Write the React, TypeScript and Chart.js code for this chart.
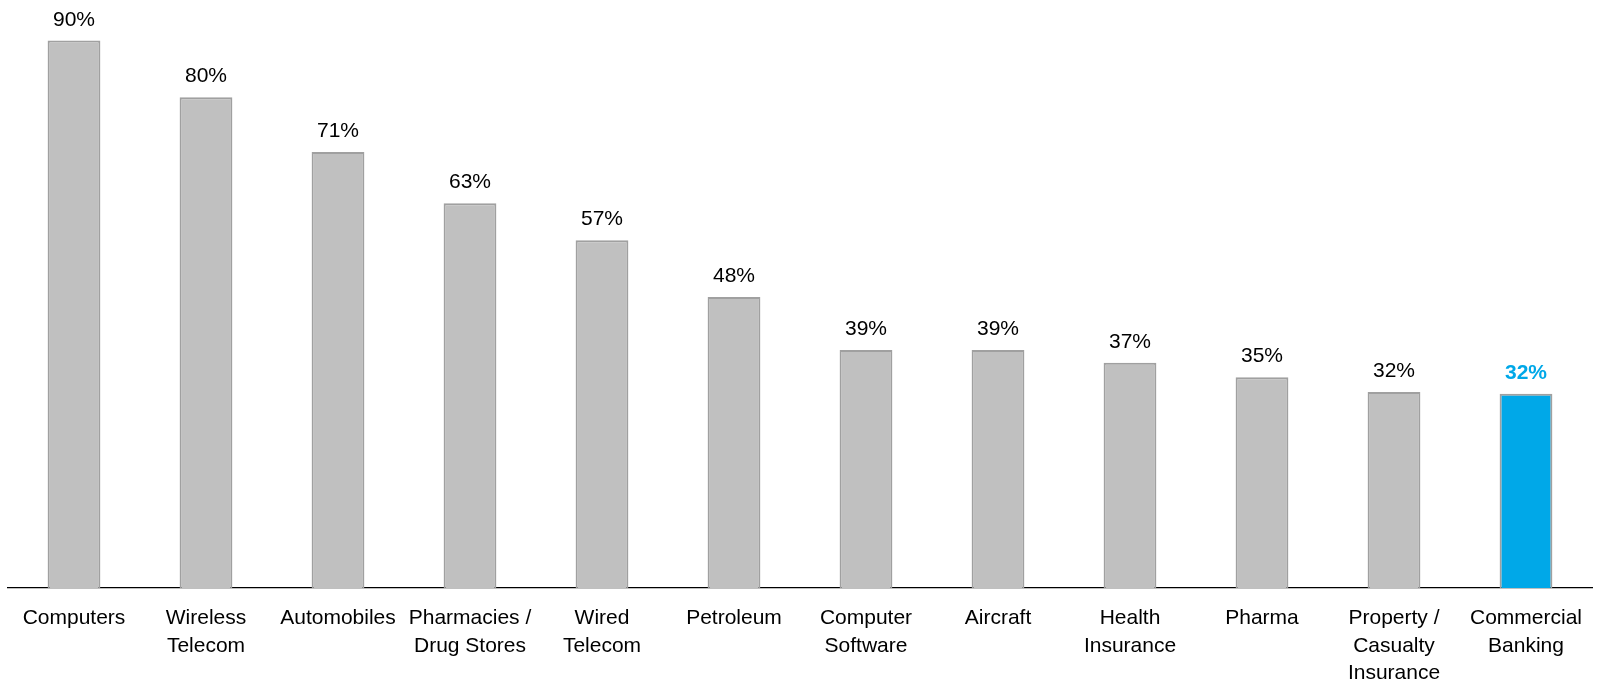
import React, { useEffect, useRef } from "react";
import { Chart, registerables } from "chart.js";

Chart.register(...registerables);

const categories: (string | string[])[] = [
  "Computers",
  ["Wireless", "Telecom"],
  "Automobiles",
  ["Pharmacies /", "Drug Stores"],
  ["Wired", "Telecom"],
  "Petroleum",
  ["Computer", "Software"],
  "Aircraft",
  ["Health", "Insurance"],
  "Pharma",
  ["Property /", "Casualty", "Insurance"],
  ["Commercial", "Banking"],
];

// bar heights
const values: number[] = [89.9, 80.6, 71.6, 63.2, 57.1, 47.8, 39.1, 39.1, 37.0, 34.6, 32.2, 31.9];
// labels printed above the bars
const valueLabels: string[] = ["90%", "80%", "71%", "63%", "57%", "48%", "39%", "39%", "37%", "35%", "32%", "32%"];
const highlightIndex = 11;

const GREY = "#c0c0c0";
const GREY_BORDER = "#a0a0a0";
const BLUE = "#00a8e8";
const FONT = "'Liberation Sans', Arial, sans-serif";

const valueLabelPlugin = {
  id: "valueLabels",
  afterDatasetsDraw(chart: any) {
    const ctx = chart.ctx;
    const meta = chart.getDatasetMeta(0);
    ctx.save();
    ctx.textAlign = "center";
    ctx.textBaseline = "alphabetic";
    meta.data.forEach((bar: any, i: number) => {
      const hl = i === highlightIndex;
      ctx.font = `${hl ? "bold " : ""}21px ${FONT}`;
      ctx.fillStyle = hl ? BLUE : "#000000";
      ctx.fillText(valueLabels[i], bar.x, bar.y - 15);
    });
    ctx.restore();
  },
};

export default function App() {
  const ref = useRef<HTMLCanvasElement>(null);
  useEffect(() => {
    if (!ref.current) return;
    const chart = new Chart(ref.current, {
      type: "bar",
      data: {
        labels: categories,
        datasets: [
          {
            data: values,
            backgroundColor: values.map((_, i) => (i === highlightIndex ? BLUE : GREY)),
            borderColor: GREY_BORDER,
            borderWidth: 2,
            barPercentage: 0.4,
            categoryPercentage: 1,
          },
        ],
      },
      options: {
        animation: false,
        responsive: false,
        maintainAspectRatio: false,
        layout: { padding: { left: 8, right: 8, top: 9.5, bottom: 0 } },
        plugins: {
          legend: { display: false },
          tooltip: { enabled: false },
        },
        scales: {
          x: {
            grid: { display: false, drawTicks: false },
            border: { display: true, color: "#000000", width: 1.2 },
            ticks: {
              color: "#000000",
              padding: 17,
              maxRotation: 0,
              autoSkip: false,
              font: { family: FONT, size: 21, lineHeight: 1.3 },
            },
            afterFit(scale: any) {
              scale.height = 95;
            },
          },
          y: {
            display: false,
            min: 0,
            max: 95,
          },
        },
      },
      plugins: [valueLabelPlugin],
    });
    return () => chart.destroy();
  }, []);
  return (
    <div
      style={{
        position: "fixed",
        left: 0,
        top: 0,
        width: 1600,
        height: 683,
        overflow: "hidden",
        background: "#ffffff",
      }}
    >
      <canvas ref={ref} width={1600} height={683} style={{ display: "block" }} />
    </div>
  );
}
